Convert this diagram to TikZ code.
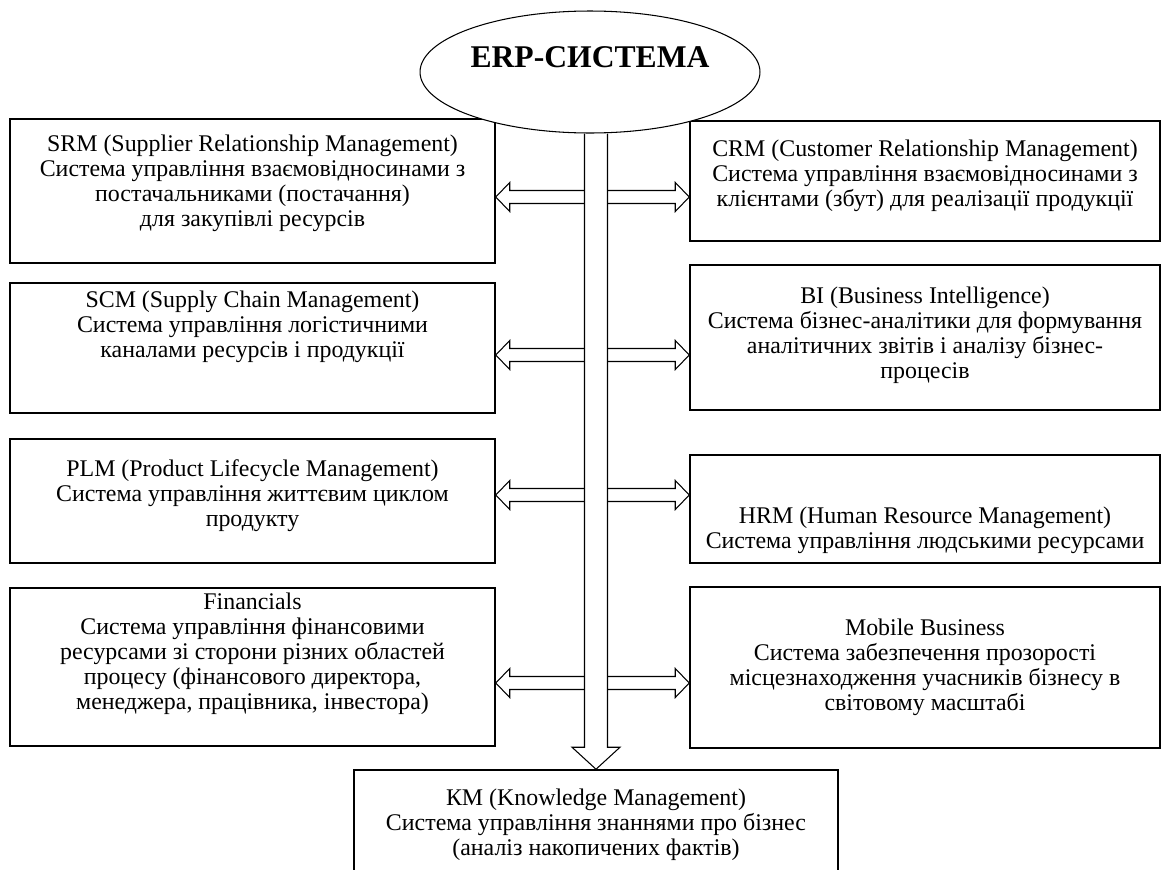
\documentclass[tikz,border=0pt]{standalone}
\usepackage{fontspec}
\setmainfont{Liberation Serif}
\usetikzlibrary{arrows.meta,positioning,calc,shapes.geometric,backgrounds}
\tikzset{
  box/.style={draw, line width=0.9pt, align=center, inner sep=0pt, font=\fontsize{13.6}{14.2}\selectfont},
  lbox/.style={box, minimum width=9.7cm},
  rbox/.style={box, minimum width=9.4cm},
  lift/.style={text depth=#1},
  sink/.style={text height=#1},
  hollow/.style={draw, fill=white, line width=0.6pt, line join=miter},
  erpnode/.style={ellipse, draw, fill=white, line width=0.6pt, minimum width=6.8cm, minimum height=2.44cm,
    inner sep=0pt, text depth=0.6cm, font=\bfseries\fontsize{18}{20}\selectfont},
}

\begin{document}
\begin{tikzpicture}[x=0.02cm, y=-0.02cm]
  \useasboundingbox (0,0) rectangle (1169,869);

  % top of the scheme
  \node[erpnode] (erp) at (590,72) {ERP-СИСТЕМА};

  \begin{scope}[on background layer]
    % left column
    \node[lbox, lift=0.4cm, minimum height=2.88cm] (srm) at (252.5,191)
      {SRM (Supplier Relationship Management)\\Система управління взаємовідносинами з\\постачальниками (постачання)\\для закупівлі ресурсів};
    \node[lbox, lift=0.96cm, minimum height=2.6cm] (scm) at (252.5,348)
      {SCM (Supply Chain Management)\\Система управління логістичними\\каналами ресурсів і продукції};
    \node[lbox, lift=0.3cm, minimum height=2.48cm] (plm) at (252.5,501)
      {PLM (Product Lifecycle Management)\\Система управління життєвим циклом\\продукту};
    \node[lbox, lift=0.64cm, minimum height=3.16cm] (fin) at (252.5,667)
      {Financials\\Система управління фінансовими\\ресурсами зі сторони різних областей\\процесу (фінансового директора,\\менеджера, працівника, інвестора)};

    % right column
    \node[rbox, lift=0.3cm, minimum height=2.4cm] (crm) at (925,181)
      {CRM (Customer Relationship Management)\\Система управління взаємовідносинами з\\клієнтами (збут) для реалізації продукції};
    \node[rbox, lift=0.2cm, minimum height=2.9cm] (bi) at (925,337.5)
      {BI (Business Intelligence)\\Система бізнес-аналітики для формування\\аналітичних звітів і аналізу бізнес-\\процесів};
    \node[rbox, sink=1.7cm, minimum height=2.16cm] (hrm) at (925,509)
      {HRM (Human Resource Management)\\Система управління людськими ресурсами};
    \node[rbox, minimum height=3.22cm] (mob) at (925,667.5)
      {Mobile Business\\Система забезпечення прозорості\\місцезнаходження учасників бізнесу в\\світовому масштабі};

    % bottom box
    \node[lbox, minimum width=9.68cm, minimum height=2.2cm] (km) at (596,825)
      {КМ (Knowledge Management)\\Система управління знаннями про бізнес\\(аналіз накопичених фактів)};

    % two-way links
    \foreach \l/\r/\y in {srm/crm/197, scm/bi/355, plm/hrm/495, fin/mob/683}{
      \coordinate (ta) at (\l.east |- 0,\y);
      \coordinate (tb) at (\r.west |- 0,\y);
      \draw[hollow] (ta) -- ++(14,-14.5) -- ++(0,8) -- ($(tb)+(-14,-6.5)$) -- ++(0,-8) -- (tb)
        -- ++(-14,14.5) -- ++(0,-8) -- ($(ta)+(14,6.5)$) -- ++(0,8) -- cycle;
    }

    % main arrow down
    \draw[hollow] ($(erp.south -| km.north)+(-11.5,0)$) -- ($(km.north)+(-11.5,-22)$) -- ++(-12.5,0)
      -- (km.north) -- ++(24,-22) -- ++(-12.5,0) -- ($(erp.south -| km.north)+(11.5,0)$);
  \end{scope}
\end{tikzpicture}
\end{document}
